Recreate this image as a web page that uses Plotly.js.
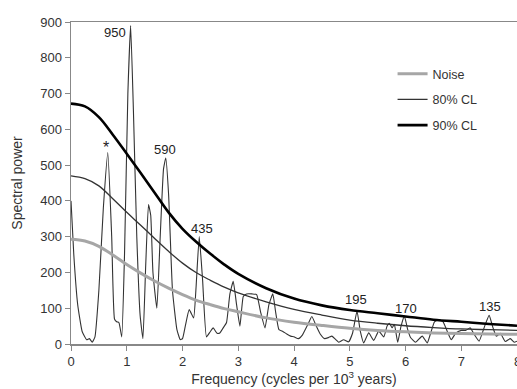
<!DOCTYPE html>
<html>
<head>
<meta charset="utf-8">
<script src="https://cdn.plot.ly/plotly-3.0.1.min.js"></script>
<style>html,body{margin:0;padding:0;background:#fff;}#chart{width:517px;height:389px;}</style>
</head>
<body>
<div id="chart"></div>
<script>
// Spectrum (frequency in cycles per 10^3 years, spectral power)
const specFreq = [0.00,0.05,0.12,0.20,0.28,0.33,0.38,0.43,0.50,0.58,0.66,0.73,0.78,0.82,0.86,0.91,0.96,1.02,1.07,1.12,1.18,1.24,1.29,1.34,1.39,1.43,1.47,1.54,1.60,1.66,1.70,1.75,1.82,1.90,1.96,2.00,2.05,2.12,2.20,2.24,2.30,2.36,2.43,2.50,2.55,2.62,2.67,2.73,2.79,2.85,2.91,2.97,3.03,3.09,3.15,3.25,3.33,3.40,3.48,3.55,3.62,3.67,3.73,3.80,3.87,3.94,4.00,4.08,4.15,4.25,4.32,4.40,4.47,4.55,4.62,4.68,4.75,4.80,4.89,4.98,5.05,5.13,5.19,5.25,5.34,5.43,5.52,5.61,5.67,5.71,5.76,5.80,5.86,5.92,5.98,6.04,6.09,6.18,6.30,6.39,6.45,6.52,6.60,6.67,6.75,6.82,6.90,7.00,7.08,7.16,7.24,7.32,7.42,7.50,7.57,7.63,7.70,7.79,7.88,7.95,8.00];
const specPower = [400,250,110,35,12,15,5,20,150,380,535,300,70,62,60,20,250,700,890,650,300,80,15,220,390,360,200,100,300,490,520,420,150,40,12,15,50,96,73,150,300,180,20,35,45,30,31,45,60,140,175,110,50,133,140,140,138,90,45,110,140,90,40,35,28,22,20,15,25,55,77,50,28,15,18,22,12,5,12,6,30,92,35,3,31,10,36,20,50,58,45,55,5,50,78,40,18,5,22,3,30,62,68,63,35,12,30,38,38,45,25,8,50,80,45,22,30,7,15,5,8];

// Noise and confidence-level curves
const clFreq   = [0,0.25,0.5,0.75,1,1.25,1.5,1.75,2,2.25,2.5,2.75,3,3.5,4,4.5,5,5.5,6,6.5,7,7.5,8];
const noise    = [293,288,273,249,222,198,176,156,138,122,110,99,90,73,61,52,44,38,34,31,29,28,27];
const cl80     = [470,462,442,406,368,332,295,259,226,199,178,159,143,118,97,81,67,58,51,46,42,40,38];
const cl90     = [672,664,634,585,532,478,423,368,322,285,252,222,196,156,127,108,95,86,77,68,62,56,51];

// Peak labels
const peakLabels = ['950','*','590','435','195','170','135'];
const peakX      = [0.79,0.63,1.69,2.35,5.12,6.0,7.52];
const peakY      = [870,548,543,324,124,100,105];

// x-axis tick labels
const xTicks = [0,1,2,3,4,5,6,7,8];

const font = "'Liberation Sans', Arial, Helvetica, sans-serif";

const traces = [
  {x: specFreq, y: specPower, mode:'lines', line:{color:'#333', width:1.1, shape:'spline', smoothing:0.4}, showlegend:false, hoverinfo:'skip'},
  {x: clFreq, y: noise, mode:'lines', name:'Noise', legendgroup:'a', line:{color:'#a6a6a6', width:3, shape:'spline'}},
  {x: clFreq, y: cl80, mode:'lines', name:'80% CL', legendgroup:'b', line:{color:'#333', width:1.3, shape:'spline'}},
  {x: clFreq, y: cl90, mode:'lines', name:'90% CL', legendgroup:'c', line:{color:'#000', width:2.6, shape:'spline'}}
];

const annotations = peakLabels.map((t,i)=>({
  x: peakX[i], y: peakY[i], text: t, showarrow:false,
  font:{family:font, size: t==='*'?16:13, color:'#222'}
}));
// last x tick label (half-cut at the right edge as in the original)
annotations.push({x: xTicks[xTicks.length-1], y: 0, yref:'y', text: String(xTicks[xTicks.length-1]),
  showarrow:false, yshift:-17, font:{family:font, size:13, color:'#333'}});

const layout = {
  width:517, height:389,
  margin:{l:71, r:0, t:22, b:45},
  paper_bgcolor:'#fff', plot_bgcolor:'#fff',
  font:{family:font, size:13, color:'#333'},
  showlegend:true,
  legend:{x:0.721, y:0.885, xanchor:'left', yanchor:'top', traceorder:'grouped', tracegroupgap:6.5,
          font:{family:font, size:12.5, color:'#333'}, bgcolor:'rgba(0,0,0,0)', itemwidth:30},
  xaxis:{range:[0,8], showgrid:false, zeroline:false, showline:true, linecolor:'#888', linewidth:1.5,
         mirror:true, ticks:'outside', ticklen:5, tickcolor:'#888',
         tickvals: xTicks.slice(0,-1), ticktext: xTicks.slice(0,-1).map(String),
         tickfont:{family:font, size:13, color:'#333'},
         title:{text:'Frequency (cycles per 10<sup>3</sup> years)', font:{family:font, size:14, color:'#333'}, standoff:4}},
  yaxis:{range:[0,900], showgrid:false, zeroline:false, showline:true, linecolor:'#888', linewidth:1.5,
         ticks:'outside', ticklen:5, tickcolor:'#888', dtick:100,
         tickfont:{family:font, size:13, color:'#333'},
         title:{text:'Spectral power', font:{family:font, size:14, color:'#333'}, standoff:14}},
  annotations: annotations
};

Plotly.newPlot('chart', traces, layout, {staticPlot:true, displayModeBar:false});
</script>
</body>
</html>
